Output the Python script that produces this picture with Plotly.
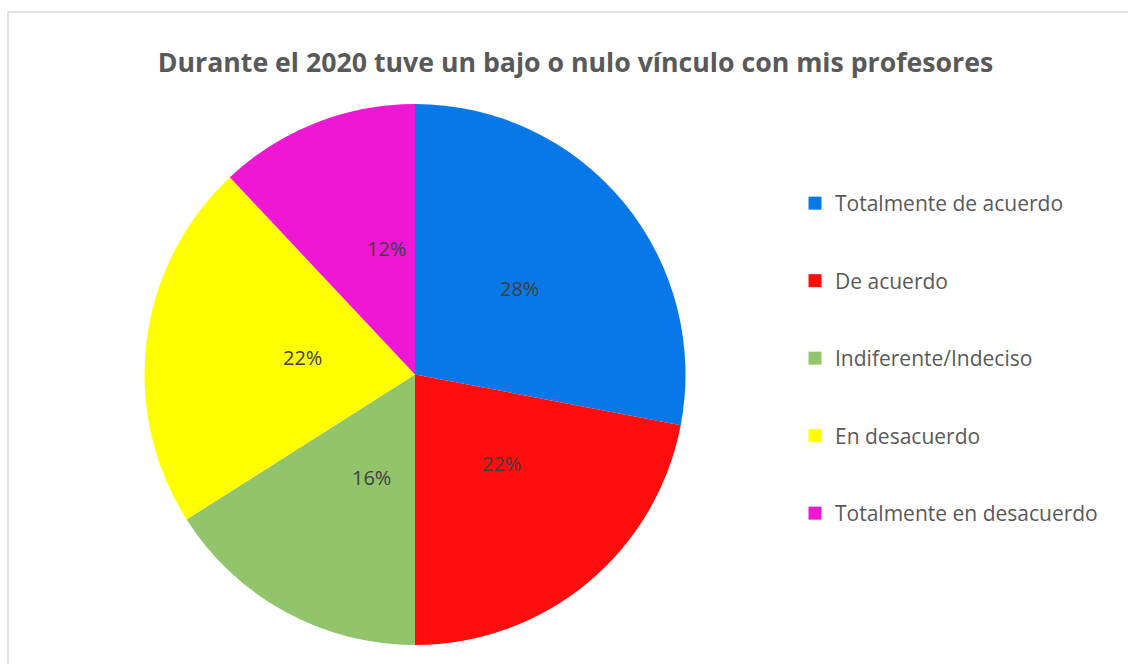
import math
import plotly.graph_objects as go

labels = ["Totalmente de acuerdo", "De acuerdo", "Indiferente/Indeciso", "En desacuerdo", "Totalmente en desacuerdo"]
values = [28, 22, 16, 22, 12]
colors = ["#0878E8", "#FF0D0D", "#92C46C", "#FFFF00", "#EE17D4"]
title = "Durante el 2020 tuve un bajo o nulo vínculo con mis profesores"

W, H = 1128, 664
cx, cy, r = 415, 374.5, 270.5

fig = go.Figure()
fig.add_trace(go.Pie(
    labels=labels, values=values, sort=False, direction="clockwise", rotation=0,
    marker=dict(colors=colors, line=dict(width=0)),
    textinfo="none", showlegend=False, hoverinfo="label+percent",
    domain=dict(x=[(cx - r) / W, (cx + r) / W], y=[1 - (cy + r) / H, 1 - (cy - r) / H]),
))
for i, (lab, col) in enumerate(zip(labels, colors)):
    fig.add_trace(go.Scatter(
        x=[None], y=[None], mode="markers", name=lab, legendgroup=str(i),
        marker=dict(symbol="square", size=13, color=col),
    ))

# data labels at half radius along each slice's mid-angle (derived from values)
total = sum(values)
annotations = []
cum = 0
for v in values:
    mid = (cum + v / 2) / total * 2 * math.pi
    cum += v
    px = cx + 0.5 * r * math.sin(mid)
    py = cy - 0.5 * r * math.cos(mid)
    annotations.append(dict(x=px / W, y=1 - py / H, xref="paper", yref="paper",
                            text=f"{round(v / total * 100)}%", showarrow=False,
                            font=dict(family="Open Sans", size=20, color="#404040")))

fig.update_layout(
    width=W, height=H, margin=dict(l=0, r=0, t=0, b=0),
    paper_bgcolor="white", plot_bgcolor="white",
    title=dict(text="<b>" + title + "</b>", x=575.5 / W, xanchor="center", y=1 - 62.5 / H, yanchor="middle",
               font=dict(family="Open Sans", size=26.7, color="#595959")),
    xaxis=dict(visible=False), yaxis=dict(visible=False),
    legend=dict(x=795 / W, xanchor="left", y=1 - 183 / H, yanchor="top", tracegroupgap=47.2,
                font=dict(family="Open Sans", size=21, color="#595959"), bgcolor="rgba(0,0,0,0)"),
    annotations=annotations,
    shapes=[dict(type="rect", xref="paper", yref="paper", x0=8 / W, x1=1.05, y0=-0.05, y1=1 - 12 / H,
                 line=dict(color="#D9D9D9", width=1.5))],
)
fig.write_html("out.html", config={"displayModeBar": False}, post_script="document.body.style.margin='0';")
